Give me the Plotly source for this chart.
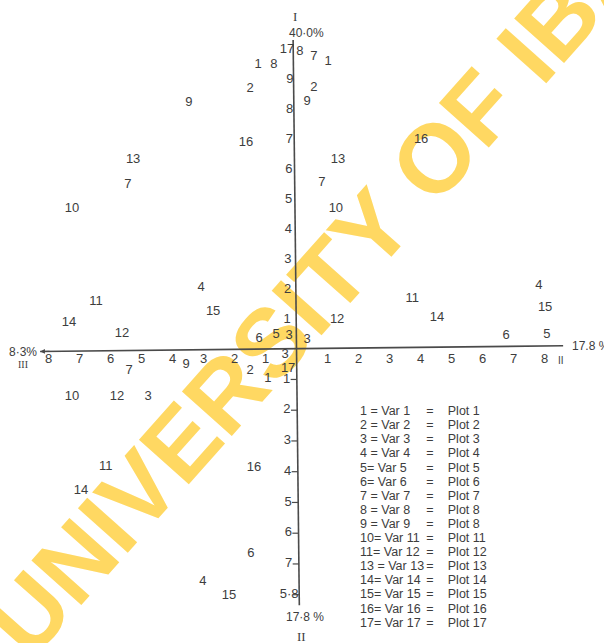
import plotly.graph_objects as go

# ---------------- data ----------------
# scattered variable / plot labels in ordination space (axis I vertical, axis II horizontal)
pt_labels = ["17", "8", "7", "1", "1", "8", "2", "2", "9", "9",
             "16", "16", "13", "13", "7", "7", "10", "10", "4", "11",
             "15", "14", "12", "12", "6", "5", "3", "3", "4", "15",
             "11", "14", "6", "5", "3", "9", "7", "2", "17", "1",
             "10", "12", "3", "11", "16", "14", "6", "4", "15"]
pt_x = [-0.31, 0.11, 0.56, 1.02, -1.24, -0.73, -1.50, 0.56, 0.34, -3.47,
        -1.63, 4.02, -5.27, 1.34, -5.44, 0.82, -7.24, 1.27, -3.08, -6.47,
        -2.69, -7.34, 1.31, -5.63, -1.21, -0.66, -0.24, 0.34, 7.82, 8.02,
        3.73, 4.53, 6.76, 8.08, -0.37, -3.56, -5.40, -1.50, -0.27, -0.92,
        -7.24, -5.79, -4.79, -6.15, -1.37, -6.95, -1.47, -3.02, -2.18]
pt_y = [9.96, 9.89, 9.72, 9.56, 9.46, 9.46, 8.66, 8.69, 8.22, 8.19,
        6.86, 6.96, 6.29, 6.29, 5.46, 5.52, 4.66, 4.66, 2.02, 1.56,
        1.22, 0.86, 0.96, 0.49, 0.32, 0.46, 0.42, 0.29, 2.09, 1.36,
        1.66, 1.02, 0.42, 0.46, -0.21, -0.54, -0.74, -0.74, -0.68, -1.01,
        -1.61, -1.61, -1.61, -3.94, -3.98, -4.74, -6.84, -7.78, -8.24]

# axis tick labels
x_tick_vals = [1, 2, 3, 4, 5, 6, 7, 8]
y_pos_tick_vals = [1, 2, 3, 4, 5, 6, 7, 8, 9]
y_neg_tick_vals = [1, 2, 3, 4, 5, 6, 7, 8]
y_neg_tick_text = ["1", "2", "3", "4", "5", "6", "7", "5·8"]

# key
key_codes = ["1 = Var 1", "2 = Var 2", "3 = Var 3", "4 = Var 4", "5= Var 5",
             "6= Var 6", "7 = Var 7", "8 = Var 8", "9 = Var 9", "10= Var 11",
             "11= Var 12", "13 = Var 13", "14= Var 14", "15= Var 15",
             "16= Var 16", "17= Var 17"]
key_plots = ["Plot 1", "Plot 2", "Plot 3", "Plot 4", "Plot 5", "Plot 6",
             "Plot 7", "Plot 8", "Plot 8", "Plot 11", "Plot 12", "Plot 13",
             "Plot 14", "Plot 15", "Plot 16", "Plot 17"]

# ---------------- layout constants ----------------
INK = "#3d3d3d"
FONT = "Liberation Sans"
SERIF = "Liberation Serif"
X_RANGE = [-9.565, 9.919]
Y_RANGE = [-9.81, 11.623]
TILT = 0.011          # slight rotation of the scanned drawing
V_TOP, V_BOT = 10.29, -8.55
H_LEFT, H_RIGHT = -8.27, 8.60

fig = go.Figure()

# axes (drawn as lines, slightly tilted like the scan)
fig.add_trace(go.Scatter(
    x=[-TILT * V_TOP * 30 / 31, -TILT * V_BOT * 30 / 31], y=[V_TOP, V_BOT],
    mode="lines", line=dict(color="#4a4a4a", width=1.6), hoverinfo="skip"))
fig.add_trace(go.Scatter(
    x=[H_LEFT, H_RIGHT], y=[TILT * H_LEFT * 31 / 30, TILT * H_RIGHT * 31 / 30],
    mode="lines", line=dict(color="#4a4a4a", width=1.6), hoverinfo="skip"))

# small arrow tip at the left end of the horizontal axis
fig.add_annotation(x=H_LEFT, y=TILT * H_LEFT * 31 / 30, ax=H_LEFT + 0.35,
                   ay=TILT * (H_LEFT + 0.35) * 31 / 30, axref="x", ayref="y",
                   xref="x", yref="y", text="", showarrow=True, arrowhead=2,
                   arrowsize=0.8, arrowwidth=1.2, arrowcolor="#4a4a4a")

# small tick marks on lower half of axis I
tx, ty = [], []
for v in y_neg_tick_vals:
    yy = -v * 1.025
    x0 = -TILT * yy * 30 / 31
    tx += [x0 - 0.2, x0, None]
    ty += [yy, yy, None]
fig.add_trace(go.Scatter(x=tx, y=ty, mode="lines",
                         line=dict(color="#4a4a4a", width=1.2), hoverinfo="skip"))

# axis tick labels
fig.add_trace(go.Scatter(
    x=x_tick_vals + [-v for v in x_tick_vals],
    y=[-0.36] * (2 * len(x_tick_vals)),
    text=[str(v) for v in x_tick_vals] * 2,
    mode="text", textposition="middle center",
    textfont=dict(family=FONT, size=13, color=INK), hoverinfo="skip"))
fig.add_trace(go.Scatter(
    x=[-0.31 + TILT * v for v in y_pos_tick_vals],
    y=[v - 0.02 for v in y_pos_tick_vals],
    text=[str(v) for v in y_pos_tick_vals],
    mode="text", textposition="middle center",
    textfont=dict(family=FONT, size=13, color=INK), hoverinfo="skip"))
fig.add_trace(go.Scatter(
    x=[-0.33 + TILT * v * 1.025 for v in y_neg_tick_vals],
    y=[-v * 1.025 for v in y_neg_tick_vals],
    text=y_neg_tick_text,
    mode="text", textposition="middle center",
    textfont=dict(family=FONT, size=13, color=INK), hoverinfo="skip"))

# scattered labels
fig.add_trace(go.Scatter(
    x=pt_x, y=pt_y, text=pt_labels, mode="text", textposition="middle center",
    textfont=dict(family=FONT, size=13, color=INK), hoverinfo="skip"))

# key
n = len(key_codes)
key_y = [-2.11 - 0.47 * i for i in range(n)]
fig.add_trace(go.Scatter(
    x=[2.05] * n, y=key_y, text=key_codes, mode="text", textposition="middle right",
    textfont=dict(family=FONT, size=12.5, color=INK), hoverinfo="skip"))
fig.add_trace(go.Scatter(
    x=[4.3] * n, y=key_y, text=["="] * n, mode="text", textposition="middle center",
    textfont=dict(family=FONT, size=12.5, color=INK), hoverinfo="skip"))
fig.add_trace(go.Scatter(
    x=[4.88] * n, y=key_y, text=key_plots, mode="text", textposition="middle right",
    textfont=dict(family=FONT, size=12.5, color=INK), hoverinfo="skip"))

# axis end labels
def note(x, y, text, size=12, family=FONT, xanchor="center"):
    fig.add_annotation(x=x, y=y, text=text, showarrow=False, xanchor=xanchor,
                       font=dict(family=family, size=size, color=INK))

note(-0.05, 11.06, "I", size=13, family=SERIF)
note(0.31, 10.52, "40·0%", size=12)
note(-8.82, -0.10, "8·3%", size=12)
note(-8.82, -0.54, "III", size=10, family=SERIF)
note(8.82, 0.09, "17.8 %", size=12, xanchor="left")
note(8.53, -0.38, "II", size=10)
note(0.27, -8.94, "17·8 %", size=12)
note(0.15, -9.60, "II", size=13, family=SERIF)

# watermark (beneath the drawing)
fig.add_shape(type="rect", xref="x", yref="y", x0=2.59, x1=2.79, y0=4.66, y1=4.86,
              line=dict(width=0), fillcolor="rgba(0,0,0,0)", layer="below",
              label=dict(text="<b>UNIVERSITY OF IBADAN</b>", textangle=-48.3,
                         textposition="middle center",
                         font=dict(family=FONT, size=97, color="rgb(255,216,98)")))

fig.update_layout(
    width=604, height=643, margin=dict(l=0, r=0, t=0, b=0),
    paper_bgcolor="white", plot_bgcolor="white", showlegend=False,
    xaxis=dict(range=X_RANGE, visible=False, fixedrange=True),
    yaxis=dict(range=Y_RANGE, visible=False, fixedrange=True),
)

fig.write_html("out.html", config={"displayModeBar": False},
               post_script="document.body.style.margin='0';")
